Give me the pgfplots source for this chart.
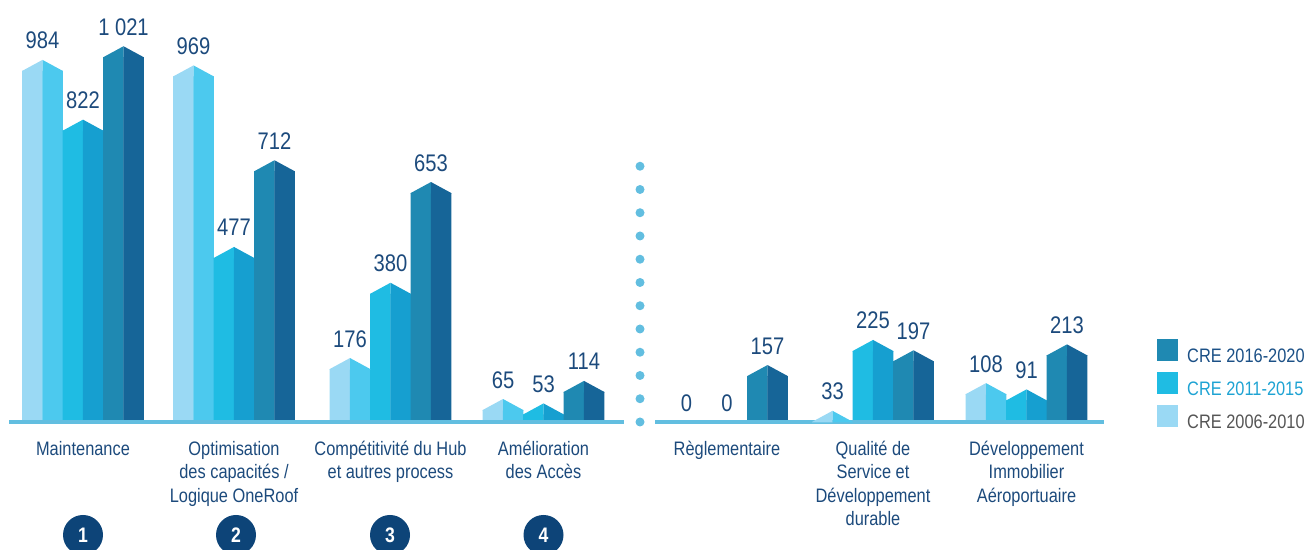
\documentclass[border=0pt]{standalone}
\usepackage{fontspec}
\setmainfont{Liberation Sans}[FakeStretch=0.84]
\usepackage{pgfplots}
\usepackage{pgfplotstable}
\pgfplotsset{compat=1.18}

\definecolor{Aone}{HTML}{9AD9F4}
\definecolor{Atwo}{HTML}{4CC9EE}
\definecolor{Bone}{HTML}{1FBCE3}
\definecolor{Btwo}{HTML}{169FD0}
\definecolor{Cone}{HTML}{1F89B2}
\definecolor{Ctwo}{HTML}{166598}
\definecolor{labcol}{HTML}{1C4A7C}
\definecolor{basecol}{HTML}{62BEE0}
\definecolor{circcol}{HTML}{0D4478}
\definecolor{legC}{HTML}{1B5086}
\definecolor{legB}{HTML}{1EA3D3}
\definecolor{legA}{HTML}{555555}

% roof halves (height 30 units = 11.07pt)
\pgfdeclareplotmark{roofL}{%
  \pgfpathmoveto{\pgfpoint{-20.4pt}{-11.07pt}}%
  \pgfpathlineto{\pgfpoint{0pt}{0pt}}%
  \pgfpathlineto{\pgfpoint{0pt}{-11.6pt}}%
  \pgfpathlineto{\pgfpoint{-20.4pt}{-11.6pt}}%
  \pgfpathclose\pgfusepathqfill}
\pgfdeclareplotmark{roofR}{%
  \pgfpathmoveto{\pgfpoint{20.4pt}{-11.07pt}}%
  \pgfpathlineto{\pgfpoint{0pt}{0pt}}%
  \pgfpathlineto{\pgfpoint{0pt}{-11.6pt}}%
  \pgfpathlineto{\pgfpoint{20.4pt}{-11.6pt}}%
  \pgfpathclose\pgfusepathqfill}

\pgfplotstableread{
x      a    b    c
83     984  822  1021
234    969  477  712
390.5  176  380  653
543.5  65   53   114
727    0    0    157
873    33   225  197
1026.5 108  91   213
}\data

\newcommand{\valfont}{\fontsize{24}{28}\selectfont}
\newcommand{\catfont}{\fontsize{19.5}{23.5}\selectfont}

\pgfplotsset{
  body/.style={ybar, forget plot, bar width=20.5pt, draw=none},
  roof/.style={forget plot, only marks, restrict y to domain=1:5000},
  vlab/.style={forget plot, only marks, mark=none, nodes near coords={\pgfmathprintnumber[fixed,precision=0,1000 sep={\ },assume math mode=true]{\pgfplotspointmeta}},
     point meta=explicit,
     every node near coord/.append style={anchor=base, yshift=11pt, font=\valfont, text=labcol, inner sep=0pt}},
}

\begin{document}
\begin{tikzpicture}
\begin{axis}[
  x=1pt, y=0.369pt,
  xmin=0, xmax=1306, ymin=-341.5, ymax=1146.3,
  scale only axis, clip=false,
  axis line style={draw=none},
  major tick style={draw=none}, major tick length=0pt,
  ytick=\empty,
  xtick={83,234,390.5,543.5,727,873,1026.5},
  xticklabels={Maintenance,{Optimisation\\des capacités /\\Logique OneRoof},{Compétitivité du Hub\\et autres process},{Amélioration\\des Accès},Règlementaire,{Qualité de\\Service et\\Développement\\durable},{Développement\\Immobilier\\Aéroportuaire}},
  xticklabel style={align=center, anchor=north, inner sep=0pt, yshift=108.3pt, font=\catfont, text=labcol},
  legend image code/.code={\fill[#1, draw=none] (0pt,-4.3pt) rectangle (21pt,17.7pt);},
  legend cell align=left,
  legend style={at={(axis cs:1157,229.3)}, anchor=north west, draw=none, fill=none, inner sep=0pt,
    nodes={inner sep=0pt}, row sep=8pt, font=\fontsize{19.5}{22}\selectfont,
    /tikz/every odd column/.append style={column sep=9pt}},
]
% --- series A (CRE 2006-2010)
\addplot[body, fill=Aone, bar shift=-10.125pt] table[x expr=\thisrow{x}-40.5, y expr={max(\thisrow{a}-30,0)}] {\data};
\addplot[body, fill=Atwo, bar shift=10.125pt] table[x expr=\thisrow{x}-40.5, y expr={max(\thisrow{a}-30,0)}] {\data};
\addplot[roof, mark=roofL, mark options={fill=Aone, draw=none}] table[x expr=\thisrow{x}-40.5, y=a] {\data};
\addplot[roof, mark=roofR, mark options={fill=Atwo, draw=none}] table[x expr=\thisrow{x}-40.5, y=a] {\data};
% --- series B (CRE 2011-2015)
\addplot[body, fill=Bone, bar shift=-10.125pt] table[x=x, y expr={max(\thisrow{b}-30,0)}] {\data};
\addplot[body, fill=Btwo, bar shift=10.125pt] table[x=x, y expr={max(\thisrow{b}-30,0)}] {\data};
\addplot[roof, mark=roofL, mark options={fill=Bone, draw=none}] table[x=x, y=b] {\data};
\addplot[roof, mark=roofR, mark options={fill=Btwo, draw=none}] table[x=x, y=b] {\data};
% --- series C (CRE 2016-2020)
\addplot[body, fill=Cone, bar shift=-10.125pt] table[x expr=\thisrow{x}+40.5, y expr={max(\thisrow{c}-30,0)}] {\data};
\addplot[body, fill=Ctwo, bar shift=10.125pt] table[x expr=\thisrow{x}+40.5, y expr={max(\thisrow{c}-30,0)}] {\data};
\addplot[roof, mark=roofL, mark options={fill=Cone, draw=none}] table[x expr=\thisrow{x}+40.5, y=c] {\data};
\addplot[roof, mark=roofR, mark options={fill=Ctwo, draw=none}] table[x expr=\thisrow{x}+40.5, y=c] {\data};
% --- value labels
\addplot[vlab] table[x expr=\thisrow{x}-40.5, y=a, meta=a] {\data};
\addplot[vlab] table[x=x, y=b, meta=b] {\data};
\addplot[vlab] table[x expr=\thisrow{x}+40.5, y=c, meta=c] {\data};
% --- baseline and separator
\draw[basecol, line width=4.5pt] (axis cs:9,2.71) -- (axis cs:624,2.71);
\draw[basecol, line width=4.5pt] (axis cs:655,2.71) -- (axis cs:1104,2.71);
\draw[basecol, line width=9pt, line cap=round, dash pattern=on 0pt off 23.25pt] (axis cs:640,2.71) -- (axis cs:640,696.5);
% --- numbered circles
\node[circle, fill=circcol, minimum size=40pt, inner sep=0pt, text=white, font=\fontsize{21}{21}\selectfont\bfseries] at (axis cs:83,-303.5) {1};
\node[circle, fill=circcol, minimum size=40pt, inner sep=0pt, text=white, font=\fontsize{21}{21}\selectfont\bfseries] at (axis cs:236,-303.5) {2};
\node[circle, fill=circcol, minimum size=40pt, inner sep=0pt, text=white, font=\fontsize{21}{21}\selectfont\bfseries] at (axis cs:390,-303.5) {3};
\node[circle, fill=circcol, minimum size=40pt, inner sep=0pt, text=white, font=\fontsize{21}{21}\selectfont\bfseries] at (axis cs:543.5,-303.5) {4};
% --- legend
\addlegendimage{fill=Cone}\addlegendentry[text=legC]{CRE 2016-2020}
\addlegendimage{fill=Bone}\addlegendentry[text=legB]{CRE 2011-2015}
\addlegendimage{fill=Aone}\addlegendentry[text=legA]{CRE 2006-2010}
\coordinate (SW) at (axis cs:0,-341.5);
\coordinate (NE) at (axis cs:1306,1146.3);
\end{axis}
\pgfresetboundingbox
\path[use as bounding box] (SW) rectangle (NE);
\end{tikzpicture}
\end{document}
